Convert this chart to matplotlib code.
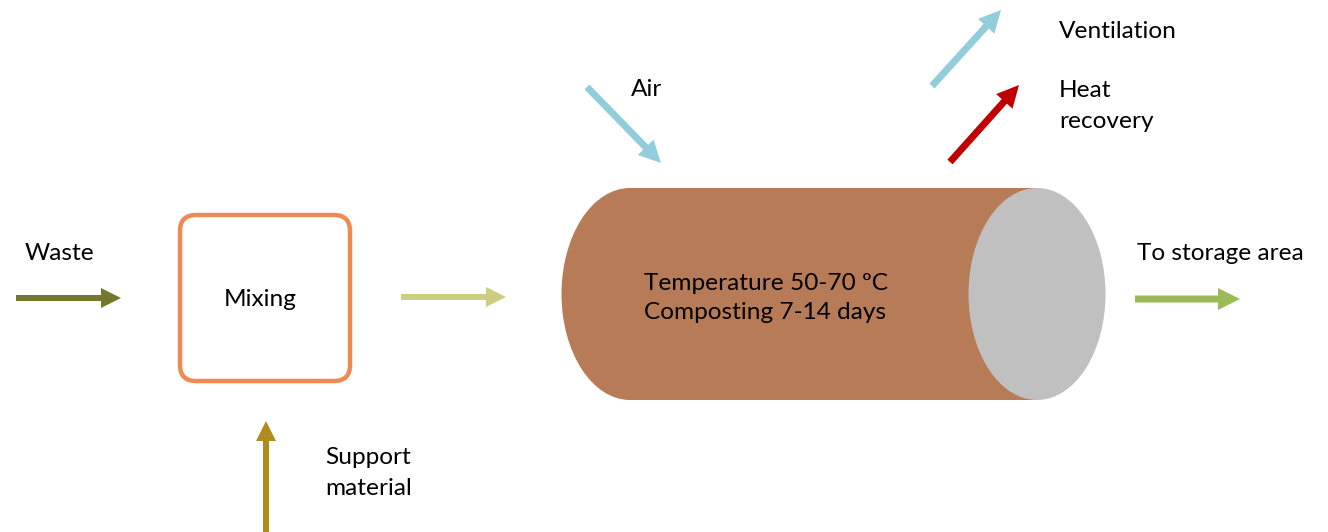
import matplotlib.pyplot as plt
from matplotlib.patches import FancyBboxPatch, Ellipse, Rectangle

plt.rcParams['font.family'] = ['Lato', 'DejaVu Sans']

# texts of the process diagram
inputs = ["Waste", "Support\nmaterial"]
step_label = "Mixing"
reactor_lines = ["Temperature 50-70 ºC", "Composting 7-14 days"]
gas_labels = ["Air", "Ventilation", "Heat\nrecovery"]
output_label = "To storage area"

# colours
c_waste = "#76772f"
c_support = "#b08c1f"
c_mix = "#f08a52"
c_feed = "#cdcd80"
c_air = "#92cddc"
c_heat = "#c00000"
c_out = "#9bbb59"
c_body = "#b87b57"
c_end = "#c0c0c0"

W, H = 1328, 532
fig = plt.figure(figsize=(W / 100, H / 100), dpi=100)
ax = fig.add_axes([0, 0, 1, 1])
ax.set_xlim(0, W)
ax.set_ylim(H, 0)
ax.axis('off')

def arrow(x0, y0, x1, y1, color, w=6, hw=20, hl=20):
    ax.arrow(x0, y0, x1 - x0, y1 - y0, width=w, head_width=hw, head_length=hl,
             length_includes_head=True, color=color, lw=0)

fs = 17.6
ls = 1.55

# waste in
arrow(16, 298, 121, 298, c_waste)
ax.text(25, 253, inputs[0], fontsize=fs, va='center', ha='left')

# mixing box
box = FancyBboxPatch((180, 215), 170, 166, boxstyle="round,pad=0,rounding_size=16",
                     fc='white', ec=c_mix, lw=3.2)
ax.add_patch(box)
ax.text(260, 299, step_label, fontsize=fs, va='center', ha='center')

# support material
arrow(266, 532, 266, 421, c_support)
ax.text(325, 473, inputs[1], fontsize=fs, va='center', ha='left', linespacing=ls)

# feed to reactor
arrow(401, 297, 506, 297, c_feed)

# reactor cylinder
cy, ch, ew = 294, 212, 137
ax.add_patch(Ellipse((630, cy), ew, ch, fc=c_body, ec='none'))
ax.add_patch(Rectangle((630, cy - ch / 2), 1037 - 630, ch, fc=c_body, ec='none'))
ax.add_patch(Ellipse((1037, cy), ew, ch, fc=c_end, ec='none'))
ax.text(644, 298, "\n".join(reactor_lines), fontsize=fs, va='center', ha='left',
        linespacing=1.45)

# air in
arrow(587, 87, 661, 163, c_air, w=7, hw=22, hl=22)
ax.text(631, 89, gas_labels[0], fontsize=fs, va='center', ha='left')

# ventilation and heat recovery
arrow(932, 86, 1001, 10, c_air, w=7, hw=22, hl=22)
ax.text(1059, 32, gas_labels[1], fontsize=fs, va='center', ha='left')
arrow(950, 162, 1019, 85, c_heat, w=7, hw=22, hl=22)
ax.text(1059, 106, gas_labels[2], fontsize=fs, va='center', ha='left', linespacing=ls)

# product out
arrow(1135, 299, 1240, 299, c_out, w=7, hw=22, hl=22)
ax.text(1137, 253, output_label, fontsize=fs, va='center', ha='left')

fig.savefig("out.png", dpi=100, facecolor='white')
